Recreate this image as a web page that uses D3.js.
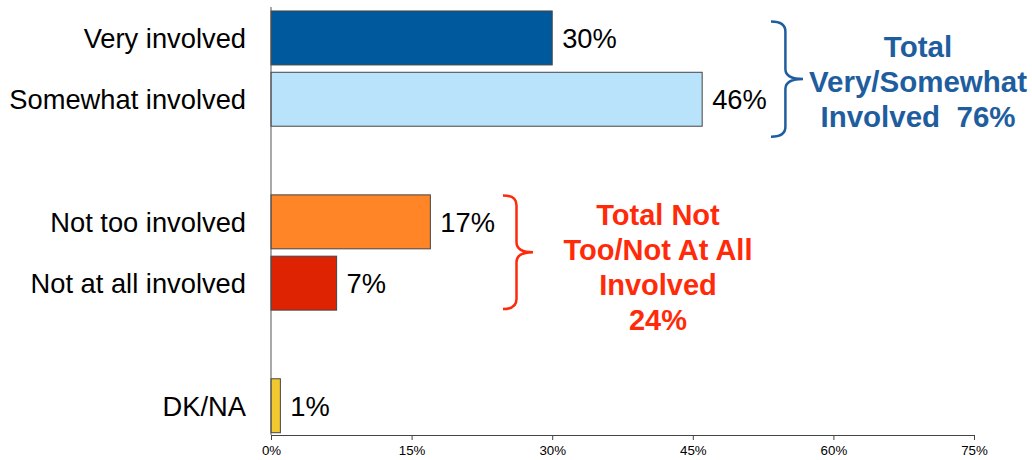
<!DOCTYPE html>
<html>
<head>
<meta charset="utf-8">
<script src="https://cdn.jsdelivr.net/npm/d3@7"></script>
<style>
  html, body { margin: 0; padding: 0; background: #fff; }
  svg { display: block; font-family: "Liberation Sans", Arial, Helvetica, sans-serif; }
</style>
</head>
<body>
<svg id="chart" width="1032" height="460"></svg>
<script>
// Involvement levels, with two empty slots that separate the groups
const categories = ["Very involved", "Somewhat involved", "", "Not too involved", "Not at all involved", " ", "DK/NA"];
const values = [30, 46, null, 17, 7, null, 1];
const barColors = ["#00599C", "#B9E3FB", null, "#FF8527", "#DE2303", null, "#F1C92F"];
const tickValues = [0, 15, 30, 45, 60, 75];

// Group totals shown beside the braces
const blueGroup = ["Very involved", "Somewhat involved"];
const blueLines = ["Total", "Very/Somewhat", "Involved\u00A0 76%"];
const redGroup = ["Not too involved", "Not at all involved"];
const redLines = ["Total Not", "Too/Not At All", "Involved", "24%"];

const svg = d3.select("#chart");

const x = d3.scaleLinear().domain([0, 75]).range([271, 974]);
const y = d3.scaleBand().domain(categories).range([7.3, 436.4])
  .paddingInner(0.12).paddingOuter(0.06);

const rows = categories.map((c, i) => ({ cat: c, v: values[i], color: barColors[i] }))
  .filter(d => d.v !== null);

// Bars
svg.append("g").selectAll("rect").data(rows).join("rect")
  .attr("x", x(0))
  .attr("y", d => y(d.cat))
  .attr("width", d => x(d.v) - x(0))
  .attr("height", y.bandwidth())
  .attr("fill", d => d.color)
  .attr("stroke", "#444")
  .attr("stroke-width", 1);

// Category labels
svg.append("g").selectAll("text").data(rows).join("text")
  .attr("x", 246)
  .attr("y", d => y(d.cat) + y.bandwidth() / 2)
  .attr("dy", "0.36em")
  .attr("text-anchor", "end")
  .attr("font-size", 27.3)
  .attr("fill", "#000")
  .text(d => d.cat);

// Value labels
svg.append("g").selectAll("text").data(rows).join("text")
  .attr("x", d => x(d.v) + 10)
  .attr("y", d => y(d.cat) + y.bandwidth() / 2)
  .attr("dy", "0.36em")
  .attr("font-size", 27.3)
  .attr("fill", "#000")
  .text(d => d.v + "%");

// Vertical axis line
svg.append("line")
  .attr("x1", x(0)).attr("x2", x(0))
  .attr("y1", 7).attr("y2", 435)
  .attr("stroke", "#555").attr("stroke-width", 1);

// Horizontal axis
const xAxis = d3.axisBottom(x).tickValues(tickValues)
  .tickFormat(d => d + "%").tickSize(5).tickSizeOuter(0).tickPadding(6);
const gx = svg.append("g").attr("transform", "translate(0,435)").call(xAxis);
gx.select(".domain").attr("stroke", "#444");
gx.selectAll(".tick line").attr("stroke", "#444");
gx.selectAll(".tick text").attr("font-size", 13.3).attr("fill", "#000")
  .attr("font-family", "'Liberation Sans', Arial, sans-serif");

// Curly brace from (x0, top) to (x0, bottom), pointing right by depth
function bracePath(x0, top, bottom, depth) {
  const mid = (top + bottom) / 2;
  const xv = x0 + depth * 0.45;
  const xp = x0 + depth;
  const r = 10;
  return `M${x0},${top}` +
    ` Q${xv},${top} ${xv},${top + r}` +
    ` L${xv},${mid - r}` +
    ` Q${xv},${mid} ${xp},${mid}` +
    ` Q${xv},${mid} ${xv},${mid + r}` +
    ` L${xv},${bottom - r}` +
    ` Q${xv},${bottom} ${x0},${bottom}`;
}

function groupSpan(group) {
  const tops = group.map(c => y(c));
  return [d3.min(tops), d3.max(tops) + y.bandwidth()];
}

// Blue brace and total
const [bTop, bBot] = groupSpan(blueGroup);
svg.append("path")
  .attr("d", bracePath(771, bTop + 10.5, bBot + 10.5, 32))
  .attr("fill", "none").attr("stroke", "#1F5E9E").attr("stroke-width", 2.5);
svg.append("text")
  .attr("text-anchor", "middle")
  .attr("font-size", 29.5).attr("font-weight", "bold").attr("fill", "#1F5E9E")
  .selectAll("tspan").data(blueLines).join("tspan")
  .attr("x", 918)
  .attr("y", (d, i) => 57 + i * 35)
  .text(d => d);

// Red brace and total
const [rTop, rBot] = groupSpan(redGroup);
svg.append("path")
  .attr("d", bracePath(503, rTop + 0.5, rBot - 1, 30))
  .attr("fill", "none").attr("stroke", "#FF2A0A").attr("stroke-width", 2.5);
svg.append("text")
  .attr("text-anchor", "middle")
  .attr("font-size", 29).attr("font-weight", "bold").attr("fill", "#FF2A0A")
  .selectAll("tspan").data(redLines).join("tspan")
  .attr("x", 658)
  .attr("y", (d, i) => 225 + i * 35)
  .text(d => d);
</script>
</body>
</html>
